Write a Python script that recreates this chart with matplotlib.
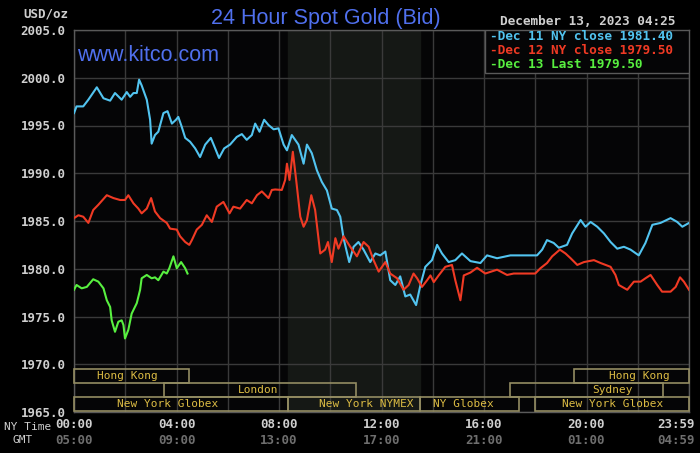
import matplotlib
matplotlib.use("Agg")
import matplotlib.pyplot as plt
from matplotlib.patches import Rectangle

# =============================
# DATA (hours since 00:00 NY time, USD/oz)
# =============================
DEC11 = [
    (0.00, 1996.3), (0.10, 1997.0), (0.36, 1997.0), (0.56, 1997.7), (0.89, 1999.0),
    (1.15, 1997.85), (1.41, 1997.6), (1.60, 1998.4), (1.86, 1997.7), (2.06, 1998.5),
    (2.19, 1998.0), (2.32, 1998.4), (2.45, 1998.4), (2.54, 1999.8), (2.64, 1999.2),
    (2.84, 1997.7), (2.97, 1995.6), (3.03, 1993.1), (3.16, 1994.0), (3.29, 1994.35),
    (3.49, 1996.3), (3.65, 1996.5), (3.82, 1995.2), (3.98, 1995.6), (4.07, 1995.9),
    (4.20, 1994.9), (4.34, 1993.7), (4.53, 1993.3), (4.73, 1992.6), (4.92, 1991.7),
    (5.12, 1993.0), (5.34, 1993.7), (5.51, 1992.6), (5.66, 1991.6), (5.86, 1992.6),
    (6.09, 1993.0), (6.35, 1993.8), (6.55, 1994.1), (6.74, 1993.5), (6.94, 1994.0),
    (7.07, 1995.2), (7.24, 1994.35), (7.42, 1995.6), (7.59, 1995.05), (7.79, 1994.6),
    (7.98, 1994.7), (8.18, 1993.0), (8.31, 1992.4), (8.50, 1994.0), (8.63, 1993.5),
    (8.76, 1993.0), (8.96, 1991.0), (9.09, 1993.0), (9.28, 1992.1), (9.48, 1990.3),
    (9.67, 1989.1), (9.87, 1988.2), (10.06, 1986.3), (10.26, 1986.15), (10.39, 1985.45),
    (10.52, 1983.2), (10.74, 1980.7), (10.91, 1982.3), (11.10, 1982.8), (11.30, 1982.0),
    (11.56, 1980.7), (11.76, 1981.6), (11.95, 1981.4), (12.15, 1981.8), (12.34, 1978.8),
    (12.54, 1978.3), (12.73, 1979.2), (12.93, 1977.1), (13.12, 1977.3), (13.35, 1976.2),
    (13.52, 1978.3), (13.71, 1980.2), (13.97, 1980.9), (14.17, 1982.5), (14.36, 1981.6),
    (14.62, 1980.7), (14.88, 1980.9), (15.14, 1981.6), (15.47, 1980.8), (15.86, 1980.6),
    (16.12, 1981.4), (16.51, 1981.1), (17.03, 1981.4), (18.07, 1981.4), (18.27, 1982.0),
    (18.46, 1983.0), (18.72, 1982.7), (18.92, 1982.2), (19.24, 1982.5), (19.44, 1983.7),
    (19.77, 1985.1), (19.96, 1984.4), (20.16, 1984.9), (20.42, 1984.4), (20.68, 1983.7),
    (20.94, 1982.8), (21.20, 1982.1), (21.46, 1982.3), (21.72, 1982.0), (22.04, 1981.4),
    (22.30, 1982.7), (22.57, 1984.6), (22.89, 1984.8), (23.28, 1985.3), (23.54, 1984.9),
    (23.74, 1984.4), (24.00, 1984.8),
]

DEC12 = [
    (0.00, 1985.3), (0.17, 1985.6), (0.36, 1985.45), (0.56, 1984.8), (0.75, 1986.15),
    (0.95, 1986.7), (1.28, 1987.7), (1.54, 1987.4), (1.80, 1987.2), (1.99, 1987.2),
    (2.12, 1987.7), (2.32, 1986.85), (2.51, 1986.3), (2.64, 1985.8), (2.84, 1986.3),
    (3.01, 1987.4), (3.16, 1986.0), (3.36, 1985.3), (3.62, 1984.8), (3.75, 1984.2),
    (4.01, 1984.1), (4.14, 1983.4), (4.34, 1982.8), (4.50, 1982.5), (4.60, 1983.0),
    (4.79, 1984.1), (4.99, 1984.6), (5.18, 1985.6), (5.38, 1984.9), (5.57, 1986.5),
    (5.83, 1987.0), (6.07, 1985.8), (6.22, 1986.5), (6.48, 1986.3), (6.74, 1987.2),
    (6.94, 1986.85), (7.14, 1987.7), (7.33, 1988.1), (7.59, 1987.4), (7.72, 1988.25),
    (7.85, 1988.3), (8.11, 1988.25), (8.24, 1989.3), (8.31, 1991.0), (8.41, 1989.3),
    (8.54, 1992.25), (8.67, 1989.3), (8.83, 1985.45), (8.96, 1984.4), (9.09, 1985.1),
    (9.26, 1987.7), (9.41, 1986.15), (9.61, 1981.6), (9.80, 1982.0), (9.91, 1982.8),
    (10.06, 1980.7), (10.20, 1983.2), (10.32, 1982.1), (10.52, 1983.4), (10.78, 1982.3),
    (11.04, 1981.3), (11.30, 1982.8), (11.50, 1982.3), (11.69, 1980.9), (11.89, 1979.7),
    (12.15, 1980.7), (12.34, 1979.5), (12.61, 1979.0), (12.86, 1977.8), (13.06, 1978.3),
    (13.25, 1979.5), (13.39, 1979.0), (13.58, 1978.1), (13.78, 1978.8), (13.91, 1979.3),
    (14.04, 1978.6), (14.23, 1979.3), (14.49, 1980.2), (14.75, 1980.4), (14.88, 1978.8),
    (15.08, 1976.7), (15.21, 1979.3), (15.47, 1979.6), (15.73, 1980.1), (16.05, 1979.5),
    (16.51, 1979.9), (16.90, 1979.35), (17.16, 1979.5), (18.00, 1979.5), (18.20, 1980.05),
    (18.46, 1980.6), (18.66, 1981.3), (18.96, 1982.0), (19.18, 1981.6), (19.38, 1981.1),
    (19.64, 1980.4), (19.90, 1980.7), (20.29, 1980.9), (20.55, 1980.6), (20.94, 1980.2),
    (21.13, 1979.35), (21.26, 1978.3), (21.59, 1977.8), (21.85, 1978.65), (22.11, 1978.65),
    (22.30, 1979.0), (22.50, 1979.35), (22.76, 1978.3), (22.95, 1977.6), (23.28, 1977.6),
    (23.48, 1978.1), (23.65, 1979.1), (23.80, 1978.65), (24.00, 1977.8),
]

DEC13 = [
    (0.00, 1977.8), (0.10, 1978.3), (0.30, 1977.95), (0.50, 1978.1), (0.75, 1978.9),
    (0.95, 1978.65), (1.15, 1977.95), (1.28, 1976.7), (1.41, 1976.0), (1.47, 1974.6),
    (1.60, 1973.4), (1.73, 1974.45), (1.86, 1974.6), (1.93, 1974.1), (1.99, 1972.7),
    (2.12, 1973.6), (2.25, 1975.3), (2.45, 1976.4), (2.58, 1977.8), (2.64, 1979.0),
    (2.84, 1979.35), (3.03, 1979.0), (3.16, 1979.1), (3.29, 1978.8), (3.49, 1979.7),
    (3.62, 1979.5), (3.72, 1980.05), (3.88, 1981.3), (4.01, 1980.05), (4.18, 1980.7),
    (4.34, 1980.05), (4.43, 1979.5),
]

LEGEND_LABELS = [
    "-Dec 11 NY close 1981.40",
    "-Dec 12 NY close 1979.50",
    "-Dec 13 Last 1979.50",
]

NY_TICKS = [0, 4, 8, 12, 16, 20, 23.983]
NY_LABELS = ["00:00", "04:00", "08:00", "12:00", "16:00", "20:00", "23:59"]
GMT_LABELS = ["05:00", "09:00", "13:00", "17:00", "21:00", "01:00", "04:59"]

# (label, row, start hour, end hour)
SESSIONS = [
    ("Hong Kong", 0, 0.0, 4.5),
    ("Hong Kong", 0, 19.5, 24.0),
    ("London", 1, 3.5, 11.0),
    ("Sydney", 1, 17.0, 23.0),
    ("New York Globex", 2, 0.0, 8.333),
    ("New York NYMEX", 2, 8.333, 13.5),
    ("NY Globex", 2, 13.5, 17.35),
    ("New York Globex", 2, 18.0, 24.0),
]
SESSION_LABEL_AT = [2.1, 22.05, 7.2, 21.0, 3.65, 11.4, 15.2, 21.0]

NYMEX_START, NYMEX_END = 8.333, 13.5

# =============================
# STYLE
# =============================
W, H = 700, 453
BG = "#000000"
PLOT_BG = "#050506"
GRID = "#3a3a3a"
SHADE = "#151815"
SPINE = "#5a5a5a"
TXT = "#cfcfcf"
GMT_TXT = "#6e6e6e"
TITLE_BLUE = "#5070ee"
BOX_EDGE = "#938c62"
BOX_TXT = "#dcbc44"
SERIES_COLORS = ["#52c4f0", "#f03a24", "#58f040"]
MONO = "DejaVu Sans Mono"
SANS = "Liberation Sans"

ROW_Y = [(1968.0, 1969.5), (1966.55, 1968.0), (1965.1, 1966.55)]

fig = plt.figure(figsize=(W / 100, H / 100), dpi=100, facecolor=BG)
ax = fig.add_axes([74 / W, 1 - 412 / H, 615 / W, 382 / H], facecolor=PLOT_BG)

ax.set_xlim(0, 24)
ax.set_ylim(1965, 2005)

ax.axvspan(NYMEX_START, NYMEX_END, color=SHADE, zorder=0)

ax.set_xticks(range(0, 25, 2))
ax.set_xticklabels([])
ax.set_yticks(range(1965, 2006, 5))
ax.set_yticklabels([f"{v:.1f}" for v in range(1965, 2006, 5)])
ax.tick_params(axis="both", length=0)
ax.tick_params(axis="y", pad=6, labelcolor=TXT, labelsize=9)
for lbl in ax.get_yticklabels():
    lbl.set_family(MONO)
    lbl.set_weight("bold")
ax.grid(True, color=GRID, linewidth=1.0, zorder=1)
ax.set_axisbelow(True)
for sp in ax.spines.values():
    sp.set_color(SPINE)
    sp.set_linewidth(1.0)

# =============================
# SERIES
# =============================
for series, color in zip([DEC11, DEC12, DEC13], SERIES_COLORS):
    xs = [p[0] for p in series]
    ys = [p[1] for p in series]
    ax.plot(xs, ys, color=color, linewidth=1.5, zorder=3)

# =============================
# SESSION BOXES
# =============================
for (name, row, start, end), lx in zip(SESSIONS, SESSION_LABEL_AT):
    y0, y1 = ROW_Y[row]
    ax.add_patch(Rectangle((start, y0), end - start, y1 - y0, fill=False,
                           edgecolor=BOX_EDGE, linewidth=1.2, zorder=4, clip_on=False))
    ax.text(lx, (y0 + y1) / 2, name, color=BOX_TXT, fontsize=8, family=MONO,
            ha="center", va="center", zorder=5)

# =============================
# LEGEND BOX
# =============================
lx0 = (485 - 74) / 615
ly0 = (412 - 72.7) / 382
ax.add_patch(Rectangle((lx0, ly0), 1 - lx0, 1 - ly0, transform=ax.transAxes,
                       facecolor=PLOT_BG, edgecolor=SPINE, linewidth=1.0, zorder=6))
for i, (label, color) in enumerate(zip(LEGEND_LABELS, SERIES_COLORS)):
    ypx = 36.7 + i * 13.8
    ax.text((490 - 74) / 615, (412 - ypx) / 382, label, transform=ax.transAxes,
            color=color, fontsize=9.2, family=MONO, weight="bold",
            ha="left", va="center", zorder=7)

# =============================
# TEXTS
# =============================
fig.text(325.5 / W, 1 - 24 / H, "24 Hour Spot Gold (Bid)", color=TITLE_BLUE,
         fontsize=15.5, family=SANS, ha="center", va="baseline")
fig.text(77 / W, 1 - 61 / H, "www.kitco.com", color=TITLE_BLUE,
         fontsize=15.5, family=SANS, ha="left", va="baseline")
fig.text(46 / W, 1 - 14 / H, "USD/oz", color=TXT, fontsize=9, family=MONO,
         weight="bold", ha="center", va="center")
fig.text(587.5 / W, 1 - 21.5 / H, "December 13, 2023 04:25", color=TXT,
         fontsize=9.2, family=MONO, weight="bold", ha="center", va="center")

fig.text(4 / W, 1 - 427 / H, "NY Time", color=TXT, fontsize=8, family=MONO,
         ha="left", va="center")
fig.text(23 / W, 1 - 440 / H, "GMT", color=TXT, fontsize=8, family=MONO,
         ha="center", va="center")
for i, (hx, ny, gmt) in enumerate(zip(NY_TICKS, NY_LABELS, GMT_LABELS)):
    last = i == len(NY_TICKS) - 1
    xf = 695 / W if last else (74 + hx / 24 * 615) / W
    ha = "right" if last else "center"
    fig.text(xf, 1 - 425 / H, ny, color=TXT, fontsize=9, family=MONO,
             weight="bold", ha=ha, va="center")
    fig.text(xf, 1 - 440 / H, gmt, color=GMT_TXT, fontsize=9, family=MONO,
             weight="bold", ha=ha, va="center")

fig.savefig("out.png", dpi=100, facecolor=BG)
